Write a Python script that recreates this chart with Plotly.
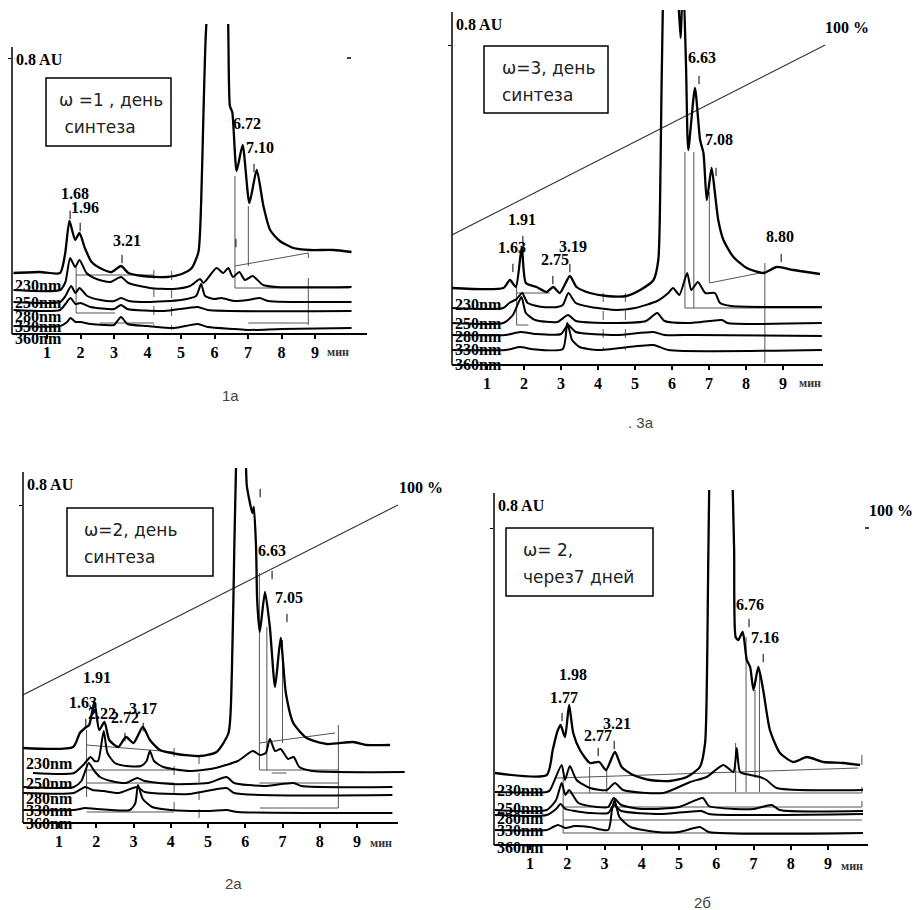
import plotly.graph_objects as go

W, H = 915, 910

# ===================== DATA =====================
# retention time, min  /  detector signal (picture units above the time axis)
TIME_TICKS = [1, 2, 3, 4, 5, 6, 7, 8, 9]
WAVELENGTHS = ["230nm", "250nm", "280nm", "330nm", "360nm"]

# ---------- 1а : ω = 1, день синтеза ----------
a1_230 = [(0.0, 61), (0.79, 62), (1.39, 61), (1.54, 80), (1.67, 113), (1.84, 94), (1.97, 101), (2.13, 86),
          (2.33, 72), (2.58, 66), (2.93, 62), (3.21, 68), (3.43, 61), (3.87, 58), (4.57, 57), (5.02, 60),
          (5.32, 66), (5.52, 82), (5.60, 130), (5.67, 220), (5.75, 306), (6.07, 430), (6.39, 330),
          (6.46, 228), (6.53, 222), (6.66, 163), (6.84, 189), (7.04, 131), (7.26, 164), (7.46, 128),
          (7.66, 104), (7.95, 93), (8.35, 86), (8.85, 84), (9.55, 84), (10.09, 82)]
a1_250 = [(0.0, 44), (1.39, 44), (1.55, 52), (1.69, 76), (1.84, 67), (1.97, 74), (2.18, 61), (2.48, 55),
          (2.88, 52), (3.21, 57), (3.43, 51), (4.07, 46), (4.77, 45), (5.27, 48), (5.57, 55), (5.67, 51),
          (6.06, 66), (6.26, 61), (6.41, 66), (6.55, 57), (6.74, 62), (6.91, 54), (7.14, 58), (7.45, 49),
          (7.86, 47), (10.09, 47)]
a1_280 = [(0.0, 32), (1.39, 32), (1.55, 38), (1.72, 48), (1.85, 41), (1.97, 46), (2.2, 38), (2.6, 34),
          (3.0, 33), (3.21, 36), (3.45, 33), (4.0, 32), (5.0, 34), (5.45, 38), (5.6, 50), (5.72, 38),
          (6.0, 35), (6.2, 36), (6.6, 33), (7.0, 34), (7.35, 36), (7.6, 33), (10.09, 32)]
a1_330 = [(0.0, 24), (1.39, 24), (1.55, 30), (1.7, 36), (1.85, 30), (2.0, 31), (2.3, 27), (3.0, 25),
          (3.21, 29), (3.4, 25), (4.5, 23), (5.5, 27), (5.8, 24), (10.09, 23)]
a1_360 = [(0.0, 8), (1.4, 8), (1.6, 12), (1.7, 16), (1.85, 12), (2.0, 12), (2.3, 10), (2.7, 9), (3.0, 9),
          (3.21, 17), (3.4, 10), (4.0, 8), (4.8, 6), (5.5, 10), (5.8, 7), (6.6, 5), (7.0, 4), (8.0, 5),
          (10.09, 6)]
a1_peak_text = ["1.68", "1.96", "3.21", "6.72", "7.10"]
a1_peak_t = [1.84, 2.13, 3.39, 6.97, 7.36]
a1_peak_s = [141, 127, 94, 211, 187]
a1_mark_t = [1.69, 1.99, 3.24, 6.64, 7.18]
a1_mark_s = [119, 107, 75, 91, 166]
a1_int = [(6.61, 158, 6.61, 46), (7.01, 128, 7.01, 68), (6.61, 68, 8.8, 81), (8.8, 81, 8.8, 76),
          (6.61, 46, 10.04, 46), (8.8, 56, 8.8, 9), (7.01, 11, 8.8, 11), (2.58, 11, 4.19, 11),
          (1.87, 68, 1.87, 21), (1.87, 21, 3.03, 21), (1.87, 59, 4.19, 59)]
a1_int_dash = [(4.19, 64, 4.19, 9), (4.72, 63, 4.72, 4)]
a1_gradient = []

# ---------- 3а : ω = 3, день синтеза ----------
a3_230 = [(0.05, 77), (1.44, 77), (1.62, 85), (1.78, 78), (1.94, 118), (2.05, 82), (2.34, 78), (2.61, 73),
          (2.79, 78), (2.97, 72), (3.24, 89), (3.42, 78), (3.78, 72), (4.23, 69), (4.77, 69), (5.14, 75),
          (5.5, 85), (5.63, 105), (5.69, 198), (5.75, 352), (5.95, 520), (6.14, 390), (6.23, 327),
          (6.30, 390), (6.38, 298), (6.44, 215), (6.62, 277), (6.76, 225), (6.85, 212), (6.94, 165),
          (7.07, 197), (7.16, 172), (7.25, 145), (7.39, 125), (7.66, 108), (8.02, 97), (8.47, 92),
          (8.83, 98), (9.28, 95), (9.64, 93), (10.0, 91)]
a3_250 = [(0.05, 57), (1.44, 57), (1.6, 62), (1.8, 66), (1.95, 72), (2.1, 62), (2.5, 58), (2.9, 58),
          (3.05, 60), (3.2, 72), (3.4, 62), (3.8, 58), (4.5, 55), (5.0, 57), (5.6, 64), (5.9, 72),
          (6.03, 77), (6.2, 70), (6.41, 92), (6.52, 75), (6.7, 83), (6.9, 72), (7.16, 72), (7.3, 62),
          (7.6, 59), (10.05, 58)]
a3_280 = [(0.05, 42), (1.44, 42), (1.7, 50), (1.93, 68), (2.05, 52), (2.3, 45), (2.9, 43), (3.19, 50),
          (3.4, 44), (4.5, 42), (5.3, 44), (5.6, 52), (5.8, 44), (6.5, 42), (7.35, 45), (7.5, 42),
          (10.05, 42)]
a3_330 = [(0.05, 30), (1.5, 30), (1.9, 33), (2.3, 31), (3.0, 31), (3.19, 40), (3.4, 33), (4.5, 30),
          (5.5, 33), (5.8, 30), (6.6, 30), (10.05, 29)]
a3_360 = [(0.05, 15), (1.5, 15), (1.9, 18), (2.2, 16), (3.05, 16), (3.17, 42), (3.3, 25), (3.5, 18),
          (4.0, 15), (5.5, 20), (5.9, 15), (10.05, 15)]
a3_peak_text = ["1.91", "1.63", "2.75", "3.19", "6.63", "7.08", "8.80"]
a3_peak_t = [1.95, 1.68, 2.84, 3.32, 6.81, 7.27, 8.92]
a3_peak_s = [145, 117, 105, 118, 307, 225, 128]
a3_mark_t = [1.7, 1.97, 2.78, 3.24, 6.73, 7.19, 8.95]
a3_mark_s = [97, 125, 85, 97, 285, 193, 107]
a3_int = [(6.35, 213, 6.35, 57), (6.59, 213, 6.59, 57), (7.01, 173, 7.01, 82), (7.01, 82, 8.51, 93),
          (6.35, 57, 10.05, 57), (8.51, 102, 8.51, 2), (1.8, 78, 1.8, 40), (1.8, 40, 2.12, 40),
          (1.8, 72, 2.7, 72)]
a3_int_dash = [(4.14, 72, 4.14, 15), (4.74, 72, 4.74, 15)]
a3_gradient = [(0.05, 130), (10.14, 320)]

# ---------- 2а : ω = 2, день синтеза ----------
b2_230 = [(0.04, 75), (1.38, 76), (1.56, 90), (1.7, 95), (1.81, 98), (1.95, 121), (2.08, 93), (2.22, 101),
          (2.35, 83), (2.59, 76), (2.8, 86), (3.0, 80), (3.25, 96), (3.44, 83), (3.71, 73), (4.16, 69),
          (4.79, 67), (5.23, 71), (5.55, 90), (5.64, 150), (5.71, 283), (5.75, 352), (5.9, 600),
          (6.04, 338), (6.11, 323), (6.19, 310), (6.23, 316), (6.29, 276), (6.32, 223), (6.39, 191),
          (6.53, 231), (6.66, 196), (6.8, 136), (6.95, 185), (7.09, 130), (7.29, 100), (7.65, 85),
          (8.19, 79), (8.9, 81), (9.26, 78), (9.89, 78)]
b2_250 = [(0.3, 50), (1.4, 50), (1.65, 58), (1.85, 66), (1.95, 62), (2.05, 62), (2.2, 92), (2.3, 70),
          (2.5, 60), (2.8, 57), (3.2, 57), (3.35, 62), (3.44, 72), (3.55, 62), (3.8, 56), (4.5, 52),
          (5.2, 55), (5.8, 62), (6.2, 72), (6.4, 68), (6.55, 70), (6.66, 84), (6.8, 72), (6.95, 74),
          (7.15, 64), (7.3, 66), (7.45, 56), (7.8, 52), (10.28, 51)]
b2_280 = [(0.04, 36), (1.4, 36), (1.6, 42), (1.8, 60), (1.95, 52), (2.1, 46), (2.4, 42), (2.8, 40),
          (3.1, 45), (3.3, 42), (4.0, 39), (5.0, 40), (5.5, 46), (5.7, 40), (6.5, 37), (7.3, 40),
          (7.5, 37), (9.95, 36)]
b2_330 = [(0.04, 30), (1.4, 30), (1.7, 36), (1.9, 33), (2.2, 32), (2.6, 30), (3.1, 36), (3.3, 31),
          (4.5, 29), (5.5, 35), (5.7, 30), (9.95, 28)]
b2_360 = [(0.04, 13), (1.4, 13), (1.7, 15), (2.0, 14), (2.9, 13), (3.05, 20), (3.12, 38), (3.25, 24),
          (3.5, 16), (4.0, 13), (5.0, 12), (5.5, 13), (5.8, 11), (9.95, 10)]
b2_peak_text = ["1.91", "1.63", "2.22", "2.72", "3.17", "6.63", "7.05"]
b2_peak_t = [2.02, 1.64, 2.15, 2.77, 3.26, 6.72, 7.18]
b2_peak_s = [146, 121, 110, 106, 115, 273, 226]
b2_mark_t = [1.72, 2.77, 3.26, 6.72, 7.12, 6.4]
b2_mark_s = [100, 86, 96, 248, 205, 330]
b2_int = [(6.38, 250, 6.38, 53), (6.58, 196, 6.58, 53), (7.0, 183, 7.0, 80), (6.39, 80, 8.41, 90),
          (8.5, 98, 8.5, 15), (6.38, 53, 8.5, 53), (6.38, 40, 8.5, 40), (6.39, 15, 8.5, 15),
          (6.71, 50, 7.11, 50), (1.74, 93, 1.74, 26), (1.74, 78, 4.09, 71), (1.74, 53, 4.09, 53),
          (1.74, 40, 4.09, 40), (1.74, 11, 4.09, 11)]
b2_int_dash = [(4.09, 75, 4.09, 11), (4.76, 68, 4.76, 5)]
b2_gradient = [(0.03, 128), (10.1, 318)]

# ---------- 2б : ω = 2, через 7 дней ----------
c2_230 = [(0.06, 72), (1.45, 70), (1.61, 95), (1.73, 113), (1.82, 120), (1.94, 108), (2.05, 140),
          (2.16, 112), (2.34, 95), (2.61, 82), (2.86, 83), (3.04, 75), (3.28, 93), (3.46, 78), (3.77, 70),
          (4.22, 65), (4.76, 64), (5.21, 68), (5.56, 78), (5.7, 102), (5.76, 195), (5.81, 355),
          (6.1, 700), (6.41, 400), (6.48, 295), (6.52, 208), (6.59, 205), (6.71, 213), (6.82, 185),
          (6.91, 178), (7.0, 155), (7.13, 178), (7.26, 155), (7.44, 115), (7.71, 92), (8.07, 83),
          (8.43, 88), (8.88, 83), (9.41, 82), (9.86, 80)]
c2_250 = [(0.06, 53), (1.45, 53), (1.54, 55), (1.85, 80), (1.94, 65), (2.07, 79), (2.25, 65), (2.61, 57),
          (3.06, 55), (3.28, 62), (3.5, 55), (4.58, 52), (5.3, 63), (5.74, 68), (6.19, 80), (6.46, 73),
          (6.55, 97), (6.64, 73), (6.91, 70), (7.17, 68), (7.35, 65), (7.62, 57), (9.94, 55)]
c2_280 = [(0.06, 35), (1.45, 35), (1.7, 45), (1.85, 62), (1.95, 50), (2.05, 55), (2.3, 42), (2.8, 38),
          (3.1, 38), (3.25, 47), (3.45, 40), (4.0, 36), (5.0, 38), (5.64, 47), (5.8, 39), (6.5, 36),
          (7.0, 36), (7.49, 40), (7.7, 35), (9.94, 34)]
c2_330 = [(0.06, 30), (1.45, 30), (1.7, 36), (1.82, 41), (1.95, 36), (2.2, 34), (2.6, 32), (3.1, 32),
          (3.25, 40), (3.45, 34), (4.5, 31), (5.6, 34), (5.8, 31), (9.94, 31)]
c2_360 = [(0.06, 15), (1.45, 15), (1.62, 18), (1.75, 20), (1.95, 17), (2.2, 19), (2.6, 18), (3.1, 15),
          (3.2, 35), (3.27, 45), (3.4, 28), (3.7, 18), (4.4, 13), (5.0, 13), (5.56, 18), (5.8, 13),
          (9.94, 12)]
c2_peak_text = ["1.98", "1.77", "2.77", "3.21", "6.76", "7.16"]
c2_peak_t = [2.16, 1.92, 2.83, 3.34, 6.91, 7.31]
c2_peak_s = [171, 148, 110, 122, 241, 208]
c2_mark_t = [1.86, 2.83, 3.26, 6.88, 7.26]
c2_mark_s = [128, 93, 100, 222, 187]
c2_int = [(1.71, 67, 9.81, 77), (1.89, 67, 1.89, 12), (1.89, 52, 9.91, 52), (1.89, 38, 9.91, 38),
          (1.89, 25, 9.91, 25), (1.89, 12, 9.91, 12), (2.6, 78, 2.6, 52), (3.06, 75, 3.06, 52),
          (6.52, 102, 6.52, 53), (6.8, 208, 6.8, 53), (7.16, 175, 7.16, 53), (7.04, 155, 7.04, 67),
          (9.91, 90, 9.91, 80), (9.91, 58, 9.91, 52), (9.91, 44, 9.91, 38)]
c2_int_dash = []
c2_gradient = []

# ===================== PANEL GEOMETRY (pixels of the page) =====================
panels = [
    dict(traces=[a1_230, a1_250, a1_280, a1_330, a1_360],
         peak=(a1_peak_text, a1_peak_t, a1_peak_s), mark=(a1_mark_t, a1_mark_s),
         integ=a1_int, integ_dash=a1_int_dash, grad=a1_gradient,
         box_lines=["ω =1 , день", " синтеза"], caption="1а",
         g=dict(x0=13.5, ppm=33.5, axis_py=334, top_py=24, left_px=12, right_px=372,
                ytop_py=47, xend_px=367, tick_py=58,
                label_py=[285, 303, 316, 326, 338], box=(46, 78, 171, 146),
                text_px=57, text_py=(100, 127), cap=(230, 395), min_px=(325, 352),
                hundred=None, dash=(349, 58))),
    dict(traces=[a3_230, a3_250, a3_280, a3_330, a3_360],
         peak=(a3_peak_text, a3_peak_t, a3_peak_s), mark=(a3_mark_t, a3_mark_s),
         integ=a3_int, integ_dash=a3_int_dash, grad=a3_gradient,
         box_lines=["ω=3, день", "синтеза"], caption=". 3а",
         g=dict(x0=450, ppm=37.0, axis_py=365, top_py=10, left_px=452, right_px=830,
                ytop_py=12, xend_px=823, tick_py=45,
                label_py=[305, 323, 336, 350, 364], box=(484, 46, 608, 113),
                text_px=500, text_py=(68, 95), cap=(641, 422), min_px=(797, 383),
                hundred=(823, 27), dash=None)),
    dict(traces=[b2_230, b2_250, b2_280, b2_330, b2_360],
         peak=(b2_peak_text, b2_peak_t, b2_peak_s), mark=(b2_mark_t, b2_mark_s),
         integ=b2_int, integ_dash=b2_int_dash, grad=b2_gradient,
         box_lines=["ω=2, день", "синтеза"], caption="2а",
         g=dict(x0=21.75, ppm=37.25, axis_py=823, top_py=468, left_px=23, right_px=408,
                ytop_py=472, xend_px=398, tick_py=505,
                label_py=[763, 783, 798, 810, 823], box=(67, 508, 213, 576),
                text_px=82, text_py=(530, 557), cap=(233, 883), min_px=(368, 843),
                hundred=(397, 487), dash=None)),
    dict(traces=[c2_230, c2_250, c2_280, c2_330, c2_360],
         peak=(c2_peak_text, c2_peak_t, c2_peak_s), mark=(c2_mark_t, c2_mark_s),
         integ=c2_int, integ_dash=c2_int_dash, grad=c2_gradient,
         box_lines=["ω= 2,", "через7 дней"], caption="2б",
         g=dict(x0=492.75, ppm=37.25, axis_py=845, top_py=490, left_px=494, right_px=872,
                ytop_py=493, xend_px=868, tick_py=528,
                label_py=[790, 808, 818, 830, 847], box=(506, 528, 653, 596),
                text_px=521, text_py=(550, 577), cap=(702, 902), min_px=(839, 866),
                hundred=(867, 510), dash=(867, 528))),
]

SERIF = "Liberation Serif"
SANS = "DejaVu Sans"


def px2paper(px, py):
    return px / W, 1 - py / H


def seg_xy(segs):
    xs, ys = [], []
    for t0, s0, t1, s1 in segs:
        xs += [t0, t1, None]
        ys += [s0, s1, None]
    return xs, ys


fig = go.Figure()
shapes, annotations = [], []

for k, P in enumerate(panels, start=1):
    g = P["g"]
    xa = "x" if k == 1 else f"x{k}"
    ya = "y" if k == 1 else f"y{k}"
    xname = "xaxis" if k == 1 else f"xaxis{k}"
    yname = "yaxis" if k == 1 else f"yaxis{k}"
    xl = (g["left_px"] - g["x0"]) / g["ppm"]
    xr = (g["right_px"] - g["x0"]) / g["ppm"]
    fig.update_layout({
        xname: dict(domain=[g["left_px"] / W, g["right_px"] / W], range=[xl, xr], anchor=ya,
                    tickvals=TIME_TICKS, ticktext=[f"<b>{v}</b>" for v in TIME_TICKS],
                    ticks="outside", ticklen=4, tickwidth=1.5, tickcolor="black",
                    tickfont=dict(family=SERIF, size=16, color="black", weight="bold"),
                    showline=False, showgrid=False, zeroline=False, fixedrange=True),
        yname: dict(domain=[1 - g["axis_py"] / H, 1 - g["top_py"] / H],
                    range=[0, g["axis_py"] - g["top_py"]], anchor=xa,
                    tickvals=[g["axis_py"] - g["tick_py"]], showticklabels=False,
                    ticks="outside", ticklen=3, tickwidth=1, tickcolor="black",
                    showline=False, showgrid=False, zeroline=False, fixedrange=True),
    })

    # gradient line
    if P["grad"]:
        fig.add_trace(go.Scatter(x=[p[0] for p in P["grad"]], y=[p[1] for p in P["grad"]],
                                 mode="lines", line=dict(color="#333", width=1.1),
                                 xaxis=xa, yaxis=ya, showlegend=False, hoverinfo="skip"))
    # integration marks
    xs, ys = seg_xy(P["integ"])
    fig.add_trace(go.Scatter(x=xs, y=ys, mode="lines", line=dict(color="#555", width=1),
                             xaxis=xa, yaxis=ya, showlegend=False, hoverinfo="skip"))
    if P["integ_dash"]:
        xs, ys = seg_xy(P["integ_dash"])
        fig.add_trace(go.Scatter(x=xs, y=ys, mode="lines",
                                 line=dict(color="#555", width=1, dash="dash"),
                                 xaxis=xa, yaxis=ya, showlegend=False, hoverinfo="skip"))
    # chromatograms
    for i, pts in enumerate(P["traces"]):
        fig.add_trace(go.Scatter(x=[p[0] for p in pts], y=[p[1] for p in pts], mode="lines",
                                 name=WAVELENGTHS[i],
                                 line=dict(color="black", width=2.3 if i == 0 else 2.0,
                                           shape="spline", smoothing=0.6),
                                 xaxis=xa, yaxis=ya, showlegend=False, hoverinfo="skip"))
    # peak tick marks
    mt, ms = P["mark"]
    fig.add_trace(go.Scatter(x=mt, y=ms, mode="markers",
                             marker=dict(symbol="line-ns", size=6, line=dict(width=1, color="black")),
                             xaxis=xa, yaxis=ya, showlegend=False, hoverinfo="skip"))
    # peak labels
    for txt, t, s in zip(*P["peak"]):
        annotations.append(dict(x=t, y=s, xref=xa, yref=ya, text=f"<b>{txt}</b>", showarrow=False,
                                font=dict(family=SERIF, size=16, color="black")))

    # axis lines
    x0p, y0p = px2paper(g["left_px"], g["axis_py"])
    x1p, _ = px2paper(g["xend_px"], g["axis_py"])
    _, ytp = px2paper(g["left_px"], g["ytop_py"])
    shapes.append(dict(type="line", xref="paper", yref="paper", x0=x0p, x1=x1p, y0=y0p, y1=y0p,
                       line=dict(color="black", width=2)))
    shapes.append(dict(type="line", xref="paper", yref="paper", x0=x0p, x1=x0p, y0=y0p, y1=ytp,
                       line=dict(color="black", width=1.5)))

    # 0.8 AU label
    ax, ay = px2paper(g["left_px"] + 2, g["ytop_py"] + 2)
    annotations.append(dict(x=ax, y=ay, xref="paper", yref="paper", text="<b>0.8 AU</b>",
                            xanchor="left", yanchor="top", showarrow=False,
                            font=dict(family=SERIF, size=16, color="black")))
    if g["hundred"]:
        hx, hy = px2paper(*g["hundred"])
        annotations.append(dict(x=hx, y=hy, xref="paper", yref="paper", text="<b>100 %</b>",
                                xanchor="left", yanchor="middle", showarrow=False,
                                font=dict(family=SERIF, size=16, color="black")))
    if g["dash"]:
        dx, dy = px2paper(*g["dash"])
        shapes.append(dict(type="line", xref="paper", yref="paper", x0=dx - 2 / W, x1=dx + 2 / W,
                           y0=dy, y1=dy, line=dict(color="black", width=1.5)))

    # wavelength labels
    for lab, lpy in zip(WAVELENGTHS, g["label_py"]):
        lx, ly = px2paper(g["left_px"] + 1, lpy)
        annotations.append(dict(x=lx, y=ly, xref="paper", yref="paper", text=f"<b>{lab}</b>",
                                xanchor="left", yanchor="middle", showarrow=False,
                                font=dict(family=SERIF, size=16, color="black")))
    # мин
    mx, my = px2paper(*g["min_px"])
    annotations.append(dict(x=mx, y=my, xref="paper", yref="paper", text="<b>мин</b>",
                            xanchor="left", yanchor="middle", showarrow=False,
                            font=dict(family=SERIF, size=12, color="#333")))

    # text box
    bx0, by0, bx1, by1 = g["box"]
    p0 = px2paper(bx0, by0)
    p1 = px2paper(bx1, by1)
    shapes.append(dict(type="rect", xref="paper", yref="paper", x0=p0[0], y0=p1[1], x1=p1[0], y1=p0[1],
                       line=dict(color="black", width=1.5), fillcolor="white", layer="above"))
    for line_txt, tpy in zip(P["box_lines"], g["text_py"]):
        tx, ty = px2paper(g["text_px"], tpy)
        annotations.append(dict(x=tx, y=ty, xref="paper", yref="paper", text=line_txt,
                                xanchor="left", yanchor="middle", showarrow=False,
                                font=dict(family=SANS, size=17, color="#222")))
    # caption
    cx, cy = px2paper(*g["cap"])
    annotations.append(dict(x=cx, y=cy, xref="paper", yref="paper", text=P["caption"],
                            xanchor="center", yanchor="middle", showarrow=False,
                            font=dict(family="Liberation Sans", size=15, color="#444")))

fig.update_layout(width=W, height=H, margin=dict(l=0, r=0, t=0, b=0),
                  paper_bgcolor="white", plot_bgcolor="white",
                  shapes=shapes, annotations=annotations, showlegend=False)

fig.write_html("out.html", config={"displayModeBar": False},
               post_script="document.body.style.margin='0';document.body.style.overflow='hidden';")
